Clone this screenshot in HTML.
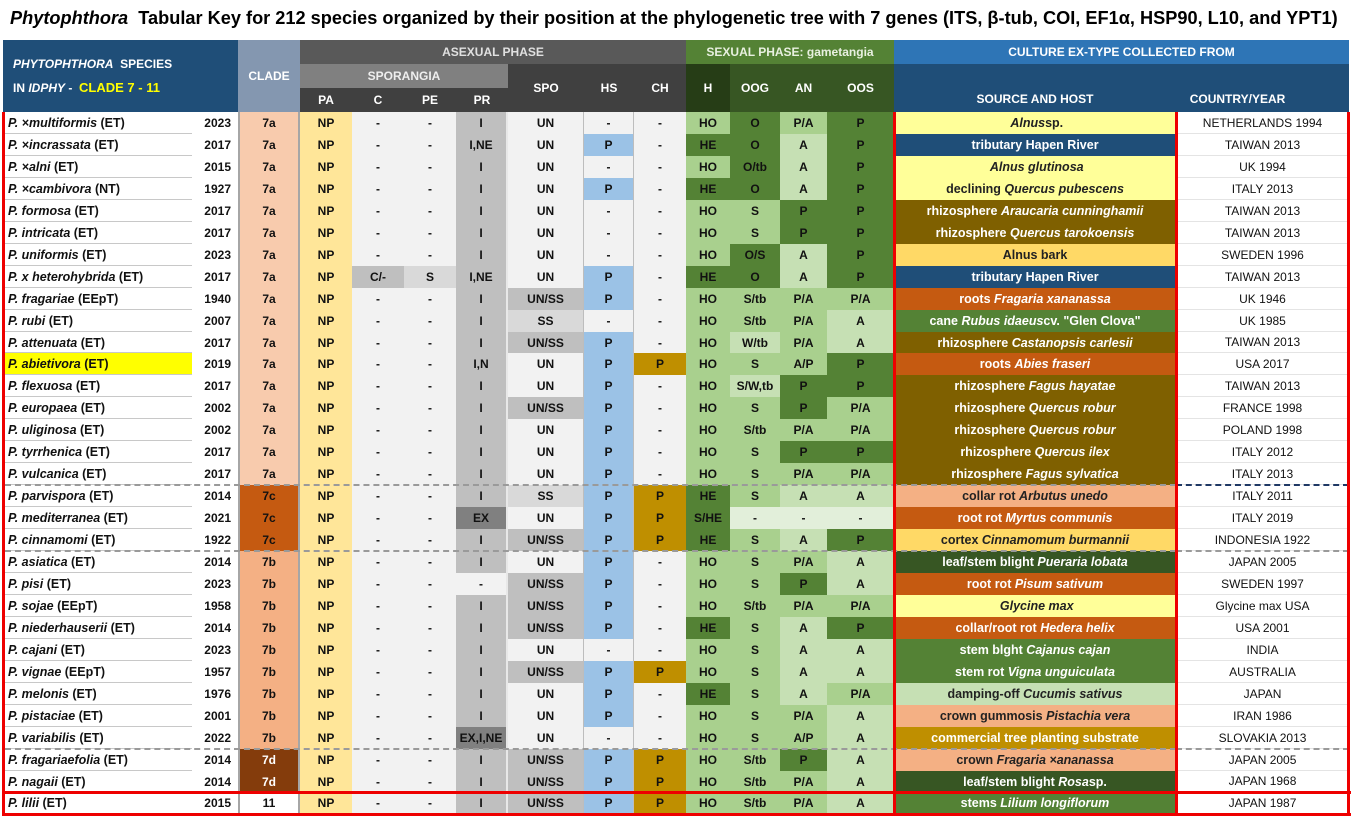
<!DOCTYPE html>
<html><head><meta charset="utf-8">
<style>
body{margin:0;width:1354px;height:820px;background:#fff;overflow:hidden;font-family:"Liberation Sans",sans-serif;position:relative}
.c{position:absolute;box-sizing:border-box;display:flex;align-items:center;justify-content:center;font-weight:bold;font-size:12px;white-space:nowrap;overflow:hidden;color:#111}
.h{color:#fff;font-size:12px}
#title{position:absolute;left:10px;top:8px;font-size:18px;font-weight:bold;white-space:nowrap;transform-origin:0 0;color:#000}
.ln{position:absolute;box-sizing:border-box}
</style></head><body>
<div id="title"><i>Phytophthora</i>&nbsp; Tabular Key for 212 species organized by their position at the phylogenetic tree with 7 genes (ITS, β-tub, COI, EF1α, HSP90, L10, and YPT1)</div>
<div id="tbl"></div>
<script>
const species=["×multiformis","×incrassata","×alni","×cambivora","formosa","intricata","uniformis","x heterohybrida","fragariae","rubi","attenuata","abietivora","flexuosa","europaea","uliginosa","tyrrhenica","vulcanica","parvispora","mediterranea","cinnamomi","asiatica","pisi","sojae","niederhauserii","cajani","vignae","melonis","pistaciae","variabilis","fragariaefolia","nagaii","lilii"];
const types=["ET","ET","ET","NT","ET","ET","ET","ET","EEpT","ET","ET","ET","ET","ET","ET","ET","ET","ET","ET","ET","ET","ET","EEpT","ET","ET","EEpT","ET","ET","ET","ET","ET","ET"];
const years=[2023,2017,2015,1927,2017,2017,2023,2017,1940,2007,2017,2019,2017,2002,2002,2017,2017,2014,2021,1922,2014,2023,1958,2014,2023,1957,1976,2001,2022,2014,2014,2015];
const clades=["7a","7a","7a","7a","7a","7a","7a","7a","7a","7a","7a","7a","7a","7a","7a","7a","7a","7c","7c","7c","7b","7b","7b","7b","7b","7b","7b","7b","7b","7d","7d","11"];
const colC=["-","-","-","-","-","-","-","C/-","-","-","-","-","-","-","-","-","-","-","-","-","-","-","-","-","-","-","-","-","-","-","-","-"];
const colPE=["-","-","-","-","-","-","-","S","-","-","-","-","-","-","-","-","-","-","-","-","-","-","-","-","-","-","-","-","-","-","-","-"];
const colPR=["I","I,NE","I","I","I","I","I","I,NE","I","I","I","I,N","I","I","I","I","I","I","EX","I","I","-","I","I","I","I","I","I","EX,I,NE","I","I","I"];
const colSPO=["UN","UN","UN","UN","UN","UN","UN","UN","UN/SS","SS","UN/SS","UN","UN","UN/SS","UN","UN","UN","SS","UN","UN/SS","UN","UN/SS","UN/SS","UN/SS","UN","UN/SS","UN","UN","UN","UN/SS","UN/SS","UN/SS"];
const colHS=["-","P","-","P","-","-","-","P","P","-","P","P","P","P","P","P","P","P","P","P","P","P","P","P","-","P","P","P","-","P","P","P"];
const colCH=["-","-","-","-","-","-","-","-","-","-","-","P","-","-","-","-","-","P","P","P","-","-","-","-","-","P","-","-","-","P","P","P"];
const colH=["HO","HE","HO","HE","HO","HO","HO","HE","HO","HO","HO","HO","HO","HO","HO","HO","HO","HE","S/HE","HE","HO","HO","HO","HE","HO","HO","HE","HO","HO","HO","HO","HO"];
const colOOG=["O","O","O/tb","O","S","S","O/S","O","S/tb","S/tb","W/tb","S","S/W,tb","S","S/tb","S","S","S","-","S","S","S","S/tb","S","S","S","S","S","S","S/tb","S/tb","S/tb"];
const colAN=["P/A","A","A","A","P","P","A","A","P/A","P/A","P/A","A/P","P","P","P/A","P","P/A","A","-","A","P/A","P","P/A","A","A","A","A","P/A","A/P","P","P/A","P/A"];
const colOOS=["P","P","P","P","P","P","P","P","P/A","A","A","P","P","P/A","P/A","P","P/A","A","-","P","A","A","P/A","P","A","A","P/A","A","A","A","A","A"];
const srcPre=["","tributary Hapen River","","declining ","rhizosphere ","rhizosphere ","Alnus bark","tributary Hapen River","roots ","cane ","rhizosphere ","roots ","rhizosphere ","rhizosphere ","rhizosphere ","rhizosphere ","rhizosphere ","collar rot ","root rot ","cortex ","leaf/stem blight ","root rot ","","collar/root rot ","stem blght ","stem rot ","damping-off ","crown gummosis ","commercial tree planting substrate","crown ","leaf/stem blight ","stems "];
const srcIt=["Alnus","","Alnus glutinosa","Quercus pubescens","Araucaria cunninghamii","Quercus tarokoensis","","","Fragaria  xananassa","Rubus idaeus","Castanopsis carlesii","Abies fraseri","Fagus hayatae","Quercus robur","Quercus robur","Quercus ilex","Fagus sylvatica","Arbutus unedo","Myrtus communis","Cinnamomum burmannii","Pueraria lobata","Pisum sativum","Glycine max","Hedera helix","Cajanus cajan","Vigna unguiculata","Cucumis sativus","Pistachia vera","","Fragaria ×ananassa","Rosa","Lilium longiflorum"];
const srcPost=[" sp.","","","","","","","","",' cv. "Glen Clova"',"","","","","","","","","","","","","","","","","","","",""," sp.",""];
const srcBg=["#ffff99","#1f4e78","#ffff99","#ffff99","#7f6000","#7f6000","#ffd966","#1f4e78","#c55a11","#548235","#7f6000","#c55a11","#7f6000","#7f6000","#7f6000","#7f6000","#7f6000","#f4b084","#c55a11","#ffd966","#375623","#c55a11","#ffff99","#c55a11","#548235","#548235","#c6e0b4","#f4b084","#bf8f00","#f4b084","#375623","#548235"];
const country=["NETHERLANDS 1994","TAIWAN 2013","UK 1994","ITALY 2013","TAIWAN 2013","TAIWAN 2013","SWEDEN 1996","TAIWAN 2013","UK 1946","UK 1985","TAIWAN 2013","USA 2017","TAIWAN 2013","FRANCE 1998","POLAND 1998","ITALY 2012","ITALY 2013","ITALY 2011","ITALY 2019","INDONESIA 1922","JAPAN 2005","SWEDEN 1997","Glycine max USA","USA 2001","INDIA","AUSTRALIA","JAPAN","IRAN 1986","SLOVAKIA 2013","JAPAN 2005","JAPAN 1968","JAPAN 1987"];
const separators=[17,20,29];

const X={sp:3,yr:192,cl:238,pa:300,c:352,pe:404,pr:456,spo:508,hs:584,ch:634,h:686,oog:730,an:780,oos:827,src:894,cty:1176,end:1349};
const T=112,RH=21.95;
const root=document.getElementById('tbl');
function cell(x0,x1,y0,y1,bg,html,cls,color){
  const d=document.createElement('div');
  d.className='c '+(cls||'');
  d.style.left=x0+'px';d.style.top=y0+'px';d.style.width=(x1-x0)+'px';d.style.height=(y1-y0)+'px';
  if(bg)d.style.background=bg;
  if(color)d.style.color=color;
  d.innerHTML=html;
  root.appendChild(d);return d;
}
function line(x,y,w,h,style){const d=document.createElement('div');d.className='ln';d.style.left=x+'px';d.style.top=y+'px';d.style.width=w+'px';d.style.height=h+'px';d.style.cssText+=style;root.appendChild(d);return d;}

// header
let e;
e=cell(X.sp,X.cl,40,T,'#1f4e78','<div style="line-height:23px;text-align:left;width:100%;padding-left:10px;box-sizing:border-box"><i>PHYTOPHTHORA</i>&nbsp; SPECIES<br>IN <i>IDPHY</i> - &nbsp;<span style="color:#ffff00;font-size:13px">CLADE 7 - 11</span></div>','h');


e=cell(X.cl,X.pa,40,T,'#8497b0','CLADE','h');


e=cell(X.pa,X.h,40,64,'#595959','ASEXUAL PHASE','h','#e0e0e0');


e=cell(X.pa,X.spo,64,88,'#808080','SPORANGIA','h','#eeeeee');


[['PA',X.pa,X.c],['C',X.c,X.pe],['PE',X.pe,X.pr],['PR',X.pr,X.spo]].forEach(a=>{
  const el=cell(a[1],a[2],88,T,'#404040',a[0],'h');
  
  
});
[['SPO',X.spo,X.hs],['HS',X.hs,X.ch],['CH',X.ch,X.h]].forEach(a=>{
  const el=cell(a[1],a[2],64,T,'#404040',a[0],'h');
  
  
});
e=cell(X.h,X.src,40,64,'#548235','SEXUAL PHASE: gametangia','h','#e8f0e0');


[['H',X.h,X.oog,'#263d16'],['OOG',X.oog,X.an,'#375623'],['AN',X.an,X.oos,'#375623'],['OOS',X.oos,X.src,'#375623']].forEach(a=>{
  const el=cell(a[1],a[2],64,T,a[3],a[0],'h');
  
  
});
e=cell(X.src,X.end,40,64,'#2e75b6','CULTURE EX-TYPE COLLECTED FROM','h');


e=cell(X.src,X.cty,64,T,'#1f4e78','<span style="margin-top:22px">SOURCE AND HOST</span>','h');


e=cell(X.cty,X.end,64,T,'#1f4e78','<span style="margin-top:22px;margin-right:50px">COUNTRY/YEAR</span>','h');



const cladeBg={"7a":"#f8cbad","7c":"#c55a11","7b":"#f4b084","7d":"#843c0c","11":"#ffffff"};
const greenMap={"HO":"#a9d08e","HE":"#548235","S/HE":"#548235","O":"#548235","O/tb":"#548235","O/S":"#548235","S":"#a9d08e","S/tb":"#a9d08e","W/tb":"#c6e0b4","S/W,tb":"#c6e0b4","-":"#e2efda","P/A":"#a9d08e","A":"#c6e0b4","P":"#548235","A/P":"#a9d08e"};
function spoBg(v){return v==="UN"?"#f2f2f2":v==="SS"?"#d9d9d9":"#bfbfbf";}
function prBg(v){return v==="-"?"#f2f2f2":(v.indexOf("EX")===0?"#808080":"#bfbfbf");}
const darkSrc=["#ffff99","#ffd966","#f4b084","#c6e0b4"];

for(let i=0;i<species.length;i++){
  const y0=Math.round(T+i*RH),y1=Math.round(T+(i+1)*RH);
  let el;
  el=cell(X.sp,X.yr,y0,y1,species[i]==="abietivora"?"#ffff00":null,'<span style="width:100%;padding-left:5px;text-align:left"><i>P. '+species[i]+'</i> ('+types[i]+')</span>');
  el.style.fontSize='12.5px';
  
  
  line(X.sp+2,y1-1,X.yr-X.sp-2,1,'background:#c8c8c8');
  el=cell(X.yr,X.cl,y0,y1,null,'<span style="width:100%;text-align:right;padding-right:7px">'+years[i]+'</span>');
  
  
  el=cell(X.cl,X.pa,y0,y1,cladeBg[clades[i]],clades[i],'',clades[i]==="7d"?"#fff":"#111");
  el.style.borderLeft='2px solid #a6a6a6';el.style.borderRight='2px solid #a6a6a6';
  
  
  el=cell(X.pa,X.c,y0,y1,'#ffe699','NP');
  
  
  el=cell(X.c,X.pe,y0,y1,colC[i]==="-"?"#f2f2f2":"#bfbfbf",colC[i]);
  
  
  el=cell(X.pe,X.pr,y0,y1,colPE[i]==="-"?"#f2f2f2":"#d9d9d9",colPE[i]);
  
  
  el=cell(X.pr,X.spo,y0,y1,prBg(colPR[i]),colPR[i]);
  el.style.borderRight='2px solid #e8e8e8';
  
  
  el=cell(X.spo,X.hs,y0,y1,spoBg(colSPO[i]),colSPO[i]);
  el.style.borderRight='1px solid #bdbdbd';
  
  
  el=cell(X.hs,X.ch,y0,y1,colHS[i]==="P"?"#9bc2e6":"#f2f2f2",colHS[i]);
  el.style.borderRight='1px solid #bdbdbd';
  
  
  el=cell(X.ch,X.h,y0,y1,colCH[i]==="P"?"#bf8f00":"#f2f2f2",colCH[i]);
  
  
  el=cell(X.h,X.oog,y0,y1,greenMap[colH[i]],colH[i]);
  
  
  el=cell(X.oog,X.an,y0,y1,greenMap[colOOG[i]],colOOG[i]);
  
  
  el=cell(X.an,X.oos,y0,y1,greenMap[colAN[i]],colAN[i]);
  
  
  el=cell(X.oos,X.src,y0,y1,greenMap[colOOS[i]],colOOS[i]);
  
  
  const dk=darkSrc.indexOf(srcBg[i])>=0;
  el=cell(X.src,X.cty,y0,y1,srcBg[i],srcPre[i]+(srcIt[i]?'<i>&nbsp;'+srcIt[i]+'</i>':'')+srcPost[i],'',dk?'#222':'#fff');
  el.style.fontSize='12.5px';
  
  
  el=cell(X.cty,X.end,y0,y1,'#fff','<span style="font-weight:normal">'+country[i]+'</span>');
  el.style.borderBottom='1px solid #e4e4e4';
  
  
}
// dashed separators
separators.forEach(s=>{
  const y=Math.round(T+s*RH)-1;
  line(5,y,X.cty-5,2,'border-top:2px dashed #9a9a9a');
  line(X.cty,y,X.end-X.cty,2,'border-top:2px dashed '+(s===17?'#1f3864':'#9a9a9a'));
});
// red borders
const yb=Math.round(T+32*RH);
const yl=Math.round(T+31*RH);
line(2,T,3,yb-T,'background:#e00');
line(X.src-1,T,3,yb-T,'background:#e00');
line(X.cty-1,T,3,yb-T,'background:#e00');
line(X.end-2,T,3,yb-T,'background:#e00');
line(2,yl-1,X.end,3,'background:#e00');
line(2,yb-1,X.end,3,'background:#e00');
// fit title
const t=document.getElementById('title');
t.style.transform='scaleX('+(1328/t.scrollWidth)+')';
</script>
</body></html>
